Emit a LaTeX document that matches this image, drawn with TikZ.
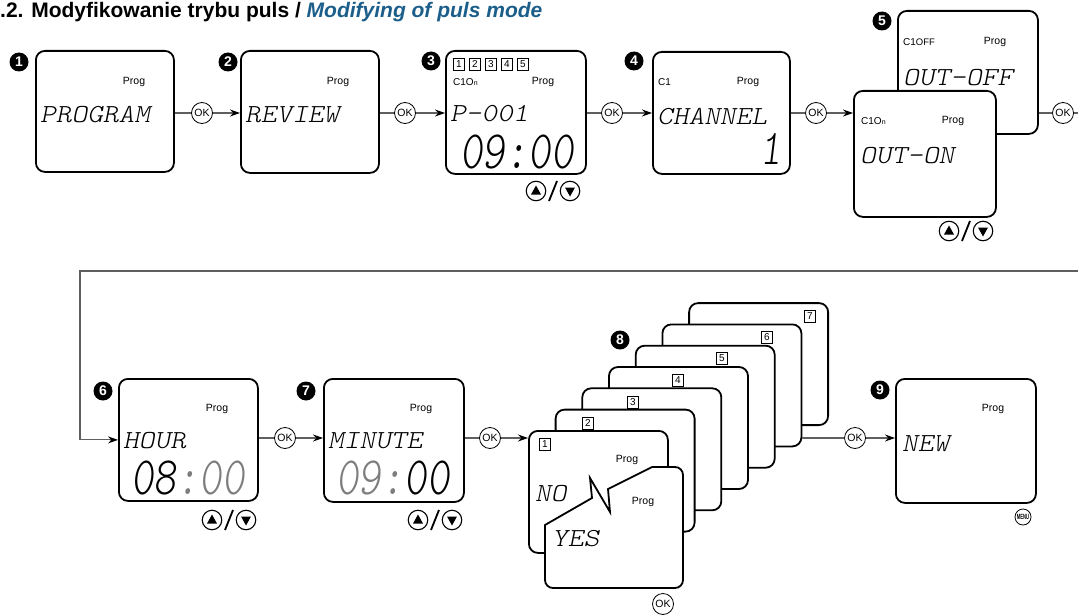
\documentclass[tikz,border=0pt]{standalone}
\usepackage{fontspec}
\setmainfont{Liberation Sans}
\newfontfamily\lcdfont[FakeSlant=0.2,FakeStretch=1.15]{lmmonolt10-regular.otf}
\newfontfamily\lcdbigfont[FakeSlant=0.12,FakeStretch=0.8]{lmmonolt10-regular.otf}
\usetikzlibrary{arrows.meta}
\definecolor{titleblue}{RGB}{27,94,138}
\definecolor{lcdgray}{RGB}{125,125,125}
\definecolor{connc}{RGB}{95,95,95}
\tikzset{
  screen/.style={draw=black, line width=1.8pt, rounded corners=9pt, fill=white, inner sep=0},
  conn/.style={draw=connc, line width=1.1pt},
  connarrow/.style={conn, -{Stealth[length=10pt,width=7pt,black]}},
  okbtn/.style={circle, draw=black, line width=0.8pt, minimum size=21pt, inner sep=0, font=\fontsize{10.5}{10.5}\selectfont, fill=white},
  ubtn/.style={circle, draw=black, line width=1.1pt, minimum size=19.5pt, inner sep=0},
  badge/.style={circle, fill=black, text=white, minimum size=19pt, inner sep=0, font=\bfseries\fontsize{14}{14}\selectfont},
  prog/.style={inner sep=0, font=\fontsize{10.5}{10.5}\selectfont},
  small/.style={inner sep=0, anchor=west, font=\fontsize{10}{10}\selectfont},
  lcd/.style={inner sep=0, anchor=west, font={\fontsize{26}{26}\lcdfont}},
  lcdbig/.style={inner sep=0, font={\fontsize{54}{54}\lcdbigfont}},
  digbox/.style={draw=black, line width=0.6pt, minimum width=11pt, minimum height=12pt, inner sep=0, font=\fontsize{10}{10}\selectfont},
}
\newcommand{\updownbtn}[3]{%
  \node[ubtn] (#1u) at ({#2-17},#3) {};
  \node[ubtn] (#1d) at ({#2+17},#3) {};
  \fill[shift={(#1u.center)}] (0,-5.5) -- (5,3.5) -- (-5,3.5) -- cycle;
  \fill[shift={(#1d.center)}] (0,5.5) -- (5,-3.5) -- (-5,-3.5) -- cycle;
  \draw[line width=1.8pt] ({#2-4},{#3+10}) -- ({#2+4},{#3-10});
}
\begin{document}
\begin{tikzpicture}[x=1pt,y=-1pt]
\useasboundingbox (0,0) rectangle (1078,615);

% title
\node[anchor=base west, inner sep=0] (title) at (0,18) {\bfseries\fontsize{21}{21}\selectfont .2. Modyfikowanie trybu puls / {\color{titleblue}\itshape Modifying of puls mode}};

% ---------- top row ----------
\node[screen, anchor=north west, minimum width=138pt, minimum height=121pt] (s1) at (35,50) {};
\node[badge] (b1) at (19,62) {1};
\node[prog] (p1) at (134,82) {Prog};
\node[lcd] (t1) at (40,115) {PROGRAM};

\node[okbtn] (ok1) at (202,113) {OK};

\node[screen, anchor=north west, minimum width=138pt, minimum height=122pt] (s2) at (240,50) {};
\node[badge] (b2) at (228,62) {2};
\node[prog] (p2) at (338,82) {Prog};
\node[lcd] (t2) at (245,115) {REVIEW};

\node[okbtn] (ok2) at (405,113) {OK};

\node[screen, anchor=north west, minimum width=140pt, minimum height=123pt] (s3) at (445,50) {};
\node[badge] (b3) at (431,61) {3};
\node[digbox] (d31) at (459,64) {1};
\node[digbox] (d32) at (475,64) {2};
\node[digbox] (d33) at (491,64) {3};
\node[digbox] (d34) at (507,64) {4};
\node[digbox] (d35) at (523,64) {5};
\node[small] (c3) at (453,82) {C1O{\fontsize{7}{7}\selectfont n}};
\node[prog] (p3) at (543,82) {Prog};
\node[lcd] (t3) at (450,114) {P-001};
\node[lcdbig] (n3) at (517,152) {09:00};
\updownbtn{ud3}{553}{191}

\node[okbtn] (ok3) at (612,113) {OK};

\node[screen, anchor=north west, minimum width=137pt, minimum height=122pt] (s4) at (652,51) {};
\node[badge] (b4) at (634,61) {4};
\node[small] (c4) at (658,82) {C1};
\node[prog] (p4) at (748,82) {Prog};
\node[lcd] (t4) at (657,117) {CHANNEL};
\node[inner sep=0, font={\fontsize{50}{50}\lcdbigfont}] (n4) at (771,149) {1};

\node[okbtn] (ok4) at (816,113) {OK};

\node[screen, anchor=north west, minimum width=140pt, minimum height=123pt] (s5b) at (897,10) {};
\node[badge] (b5) at (882,21) {5};
\node[small] (c5b) at (903,42) {C1{\fontsize{9.5}{9.5}\selectfont OFF}};
\node[prog] (p5b) at (995,42) {Prog};
\node[lcd] (t5b) at (903,78) {OUT-OFF};

\node[screen, anchor=north west, minimum width=142pt, minimum height=126pt] (s5) at (853,90) {};
\node[small] (c5) at (861,121) {C1O{\fontsize{7}{7}\selectfont n}};
\node[prog] (p5) at (953,121) {Prog};
\node[lcd] (t5) at (860,156) {OUT-ON};
\updownbtn{ud5}{966}{231}

\node[okbtn] (ok5) at (1063,113) {OK};
\coordinate (r1) at (1078,113);
\coordinate (r2) at (1078,271);
\coordinate (r3) at (80,271);

\draw[conn] (s1.east |- ok1) -- (ok1);
\draw[connarrow] (ok1) -- (s2.west |- ok1);
\draw[conn] (s2.east |- ok2) -- (ok2);
\draw[connarrow] (ok2) -- (s3.west |- ok2);
\draw[conn] (s3.east |- ok3) -- (ok3);
\draw[connarrow] (ok3) -- (s4.west |- ok3);
\draw[conn] (s4.east |- ok4) -- (ok4);
\draw[connarrow] (ok4) -- (s5.west |- ok4);
\draw[conn] (s5b.east |- ok5) -- (ok5);
\draw[conn] (ok5) -- (r1);

% ---------- bottom row ----------
\node[screen, anchor=north west, minimum width=139pt, minimum height=122pt] (s6) at (118,378) {};
\node[badge] (b6) at (103,391) {6};
\node[prog] (p6) at (217,409) {Prog};
\node[lcd] (t6) at (123,441) {HOUR};
\node[lcdbig] (n6) at (188,478) {08{\color{lcdgray}:00}};
\updownbtn{ud6}{229}{520}

\draw[connarrow] (r2) -- (r3) |- (s6.west);

\node[okbtn] (ok6) at (285,438) {OK};

\node[screen, anchor=north west, minimum width=140pt, minimum height=123pt] (s7) at (323,378) {};
\node[badge] (b7) at (306,391) {7};
\node[prog] (p7) at (421,409) {Prog};
\node[lcd] (t7) at (328,441) {MINUTE};
\node[lcdbig] (n7) at (393,478) {{\color{lcdgray}09:}00};
\updownbtn{ud7}{435}{520}

\node[okbtn] (ok7) at (490,438) {OK};

\draw[conn] (s6.east |- ok6) -- (ok6);
\draw[connarrow] (ok6) -- (s7.west |- ok6);
\draw[conn] (s7.east |- ok7) -- (ok7);

% stack of cards (step 8)
\node[screen, anchor=north west, minimum width=139pt, minimum height=122pt] (c7) at (688.2,302.2) {};
\node[digbox] (l7) at (810,316) {7};
\node[screen, anchor=north west, minimum width=139pt, minimum height=122pt] (c6) at (661.5,323.5) {};
\node[digbox] (l6) at (767,337) {6};
\node[screen, anchor=north west, minimum width=139pt, minimum height=122pt] (c5) at (634.8,344.8) {};
\node[digbox] (l5) at (722,358) {5};
\node[screen, anchor=north west, minimum width=139pt, minimum height=122pt] (c4) at (608.1,366.1) {};
\node[digbox] (l4) at (678,380) {4};
\node[screen, anchor=north west, minimum width=139pt, minimum height=122pt] (cc3) at (581.4,387.4) {};
\node[digbox] (l3) at (633,402) {3};
\node[screen, anchor=north west, minimum width=139pt, minimum height=122pt] (cc2) at (554.7,408.7) {};
\node[digbox] (l2) at (588,423) {2};
\node[screen, anchor=north west, minimum width=139pt, minimum height=122pt] (cc1) at (528,430) {};
\node[digbox] (l1) at (545,444) {1};
\node[badge] (b8) at (620,340) {8};
\node[prog] (p8a) at (627,460) {Prog};
\node[lcd] (t8a) at (535,494) {NO};

% YES card with torn top
\draw[black, line width=1.8pt, fill=white] (592,498) -- (545,525)
  [rounded corners=8pt] -- (545,588) -- (683,588) -- (683,467)
  [sharp corners] -- (652,467) -- (608,489) -- (610,512) -- (590,478) -- cycle;
\node[prog] (p8b) at (643,502) {Prog};
\node[lcd] (t8b) at (552,539) {YES};
\node[okbtn] (ok8b) at (663,604) {OK};

\draw[connarrow] (ok7) -- (cc1.west |- ok7);

\node[okbtn] (ok8) at (855,438) {OK};
\draw[conn] (c6.east |- ok8) -- (ok8);

\node[screen, anchor=north west, minimum width=140pt, minimum height=124pt] (s9) at (895,378) {};
\node[badge] (b9) at (880,390) {9};
\node[prog] (p9) at (993,409) {Prog};
\node[lcd] (t9) at (902,444) {NEW};
\node[circle, draw=black, line width=0.8pt, minimum size=16pt, inner sep=0] (menu) at (1023,517) {\bfseries\fontsize{7.5}{7.5}\selectfont\scalebox{0.55}[1]{MENU}};
\draw[connarrow] (ok8) -- (s9.west |- ok8);

\end{tikzpicture}
\end{document}
